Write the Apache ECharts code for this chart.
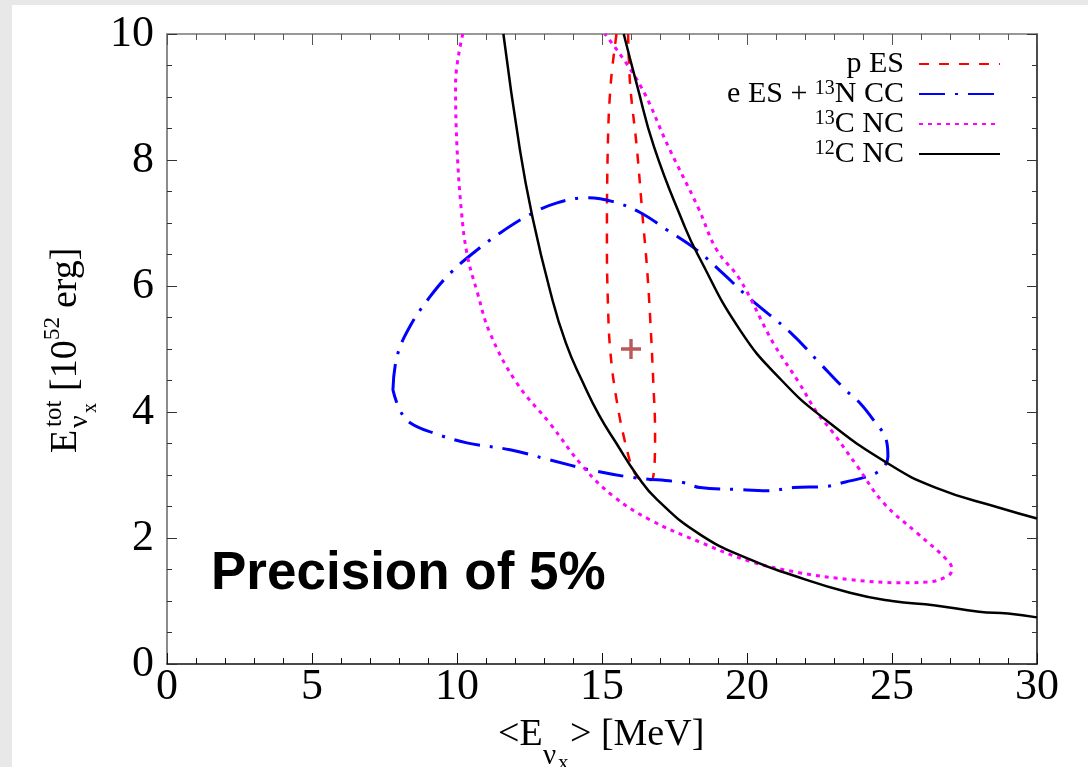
<!DOCTYPE html>
<html>
<head>
<meta charset="utf-8">
<script src="https://cdn.jsdelivr.net/npm/echarts@6/dist/echarts.min.js"></script>
<style>
  html, body { margin: 0; padding: 0; background: #e8e8e8; }
  #chart { width: 1088px; height: 767px; }
</style>
</head>
<body>
<div id="chart"></div>
<script>
// p ES contour
var redX = [15.5, 15.3, 15.2, 15.17, 15.2, 15.28, 15.5, 15.86, 16.13, 16.4, 16.7, 16.83, 16.77, 16.66, 16.55, 16.4, 16.2, 15.97, 15.9];
var redY = [10, 9.2, 8.2, 6.6, 5.8, 5.0, 4.2, 3.4, 3.03, 2.92, 2.92, 3.67, 4.46, 5.5, 6.3, 7.1, 8.2, 9.2, 10];
// e ES + 13N CC contour
var blueX = [7.79, 7.93, 8.38, 9.07, 9.76, 10.55, 11.48, 12.5, 13.45, 14.48, 15.38, 16.3, 17.24, 18.27, 19.17, 20.1, 21.5, 22.5, 23.4, 23.9, 24.35, 24.8, 24.86, 24.6, 24.1, 23.4, 22.75, 21.6, 20.7, 19.64, 18.38, 17.8, 16.07, 14.6, 13.2, 11.83, 10.34, 9.17, 8.38, 8.03, 7.79];
var blueY = [4.35, 4.88, 5.36, 5.83, 6.2, 6.52, 6.84, 7.13, 7.32, 7.4, 7.34, 7.17, 6.89, 6.57, 6.2, 5.8, 5.26, 4.78, 4.35, 4.14, 3.88, 3.56, 3.29, 3.08, 2.97, 2.89, 2.82, 2.8, 2.75, 2.77, 2.8, 2.88, 2.96, 3.08, 3.24, 3.4, 3.51, 3.67, 3.83, 4.03, 4.35];
// 13C NC contour
var magX = [10.2, 9.95, 10.0, 10.15, 10.35, 10.7, 11.14, 12.06, 13.2, 14.35, 15.4, 16.65, 18.4, 20.1, 21.8, 23.55, 25.3, 26.2, 26.9, 27.07, 26.9, 25.86, 24.7, 23.8, 22.97, 22.4, 21.8, 20.9, 19.76, 18.96, 18.3, 17.3, 16.3, 15.1];
var magY = [10, 9.2, 8.2, 7.2, 6.5, 5.9, 5.25, 4.46, 3.82, 3.13, 2.66, 2.29, 1.93, 1.63, 1.45, 1.34, 1.29, 1.3, 1.39, 1.5, 1.65, 2.08, 2.56, 3.14, 3.67, 4.0, 4.46, 5.1, 6.1, 6.57, 7.26, 8.2, 9.2, 10];
// 12C NC contour, upper and lower branch
var blkAX = [15.75, 16.2, 16.8, 17.8, 18.3, 19.76, 21.2, 22.7, 24.8, 26.5, 28.7, 30];
var blkAY = [10, 9.2, 8.2, 7.0, 6.5, 5.3, 4.5, 3.88, 3.2, 2.8, 2.48, 2.31];
var blkBX = [11.6, 12.17, 12.6, 13.2, 13.75, 14.35, 14.9, 15.5, 16.2, 16.9, 18.4, 20.1, 21.5, 23.55, 25, 26.5, 28, 29, 30];
var blkBY = [10, 8.16, 7.1, 5.94, 5.1, 4.46, 3.95, 3.5, 3.0, 2.61, 2.05, 1.66, 1.42, 1.13, 1.0, 0.93, 0.83, 0.8, 0.74];
// true value
var bestFit = [16, 5];

var names = ['p ES', 'e ES + 13N CC', '13C NC', '12C NC'];
var legendText = {
  'p ES': '{a|p ES}',
  'e ES + 13N CC': '{a|e ES + }{s|13}{a|N CC}',
  '13C NC': '{s|13}{a|C NC}',
  '12C NC': '{s|12}{a|C NC}'
};

function pts(xs, ys) {
  var out = [];
  for (var i = 0; i < xs.length; i++) out.push([xs[i], ys[i]]);
  return out;
}

var serif = 'Liberation Serif';
var chart = echarts.init(document.getElementById('chart'));

function txt(x, y, s, size) {
  return { type: 'text', style: { text: s, x: x, y: y, fill: '#000', font: size + 'px "Liberation Serif"', verticalAlign: 'middle', align: 'left' } };
}

// baseline -> middle offset for serif font
function mid(base, size) { return base - 0.305 * size; }

var yTitle = {
  type: 'group',
  x: 78, y: 453,
  rotation: Math.PI / 2,
  children: [
    txt(0, mid(0, 38), 'E', 38),
    txt(26, mid(-16, 25), 'tot', 25),
    txt(25, mid(10, 28), 'ν', 28),
    txt(40, mid(19, 20), 'x', 20),
    txt(62, mid(0, 38), '[10', 38),
    txt(113, mid(-18, 23), '52', 23),
    txt(145, mid(0, 38), 'erg]', 38)
  ]
};

var xTitle = {
  type: 'group',
  children: [
    txt(498, mid(747, 38), '<E', 38),
    txt(543, mid(765, 29), 'ν', 29),
    txt(558, mid(770, 21), 'x', 21),
    txt(570, mid(747, 38), '> [MeV]', 38)
  ]
};

var tickLabel = { fontFamily: serif, fontSize: 44, color: '#000' };

var option = {
  backgroundColor: '#e8e8e8',
  animation: false,
  grid: { left: 167, right: 51, top: 34, bottom: 103 },
  xAxis: [
    {
      type: 'value', min: 0, max: 30, interval: 5, position: 'bottom',
      axisLine: { onZero: false, lineStyle: { color: '#111', width: 1.5 } },
      axisTick: { inside: true, length: 11, lineStyle: { color: '#111' } },
      minorTick: { show: true, splitNumber: 5, length: 6, lineStyle: { color: '#111' } },
      axisLabel: Object.assign({ margin: 1 }, tickLabel),
      splitLine: { show: false }
    },
    {
      type: 'value', min: 0, max: 30, interval: 5, position: 'top',
      axisLine: { onZero: false, lineStyle: { color: '#777', width: 1.5 } },
      axisTick: { inside: true, length: 11, lineStyle: { color: '#555' } },
      minorTick: { show: true, splitNumber: 5, length: 6, lineStyle: { color: '#555' } },
      axisLabel: { show: false },
      splitLine: { show: false }
    }
  ],
  yAxis: [
    {
      type: 'value', min: 0, max: 10, interval: 2, position: 'left',
      axisLine: { onZero: false, lineStyle: { color: '#666', width: 1.5 } },
      axisTick: { inside: true, length: 10, lineStyle: { color: '#333' } },
      minorTick: { show: true, splitNumber: 4, length: 5, lineStyle: { color: '#333' } },
      axisLabel: Object.assign({ margin: 13 }, tickLabel),
      splitLine: { show: false }
    },
    {
      type: 'value', min: 0, max: 10, interval: 2, position: 'right',
      axisLine: { onZero: false, lineStyle: { color: '#111', width: 1.5 } },
      axisTick: { inside: true, length: 10, lineStyle: { color: '#333' } },
      minorTick: { show: true, splitNumber: 4, length: 5, lineStyle: { color: '#333' } },
      axisLabel: { show: false },
      splitLine: { show: false }
    }
  ],
  legend: {
    orient: 'vertical',
    right: 82, top: 44,
    align: 'right',
    itemWidth: 81, itemHeight: 14, itemGap: 0,
    data: names,
    itemStyle: { opacity: 0 },
    formatter: function (name) { return legendText[name]; },
    textStyle: {
      padding: [0, 10, 0, 0],
      rich: {
        a: { fontFamily: serif, fontSize: 30, lineHeight: 30, color: '#000' },
        s: { fontFamily: serif, fontSize: 20, lineHeight: 13, verticalAlign: 'top', color: '#000' }
      }
    }
  },
  graphic: [
    { type: 'rect', z: -100, silent: true, shape: { x: 12, y: 5, width: 1076, height: 762 }, style: { fill: '#fff' } },
    yTitle,
    xTitle,
    {
      type: 'text', x: 211, y: 601,
      style: { text: 'Precision of 5%', fill: '#000', font: 'bold 53px "Liberation Sans"', verticalAlign: 'bottom' }
    }
  ],
  series: [
    {
      name: 'p ES', type: 'line', smooth: 0.4, symbol: 'none',
      data: pts(redX, redY),
      lineStyle: { color: '#ff0000', width: 2.5, type: [10, 10] },
      itemStyle: { color: '#ff0000' }
    },
    {
      name: 'e ES + 13N CC', type: 'line', smooth: 0.4, symbol: 'none',
      data: pts(blueX, blueY),
      lineStyle: { color: '#0000ff', width: 3, type: [26, 10, 3, 10] },
      itemStyle: { color: '#0000ff' }
    },
    {
      name: '13C NC', type: 'line', smooth: 0.4, symbol: 'none',
      data: pts(magX, magY),
      lineStyle: { color: '#ff00ff', width: 3, type: [4, 5] },
      itemStyle: { color: '#ff00ff' }
    },
    {
      name: '12C NC', type: 'line', smooth: 0.5, symbol: 'none',
      data: pts(blkAX, blkAY),
      lineStyle: { color: '#000', width: 2.5, type: 'solid' },
      itemStyle: { color: '#000' }
    },
    {
      name: '12C NC', type: 'line', smooth: 0.5, symbol: 'none',
      data: pts(blkBX, blkBY),
      lineStyle: { color: '#000', width: 2.5, type: 'solid' },
      itemStyle: { color: '#000' }
    },
    {
      name: 'best', type: 'scatter',
      symbol: 'path://M8.3,0h3.4v8.3h8.3v3.4h-8.3v8.3h-3.4v-8.3h-8.3v-3.4h8.3z',
      symbolSize: 20,
      itemStyle: { color: '#a83030' },
      data: [bestFit]
    }
  ]
};
chart.setOption(option);
</script>
</body>
</html>
